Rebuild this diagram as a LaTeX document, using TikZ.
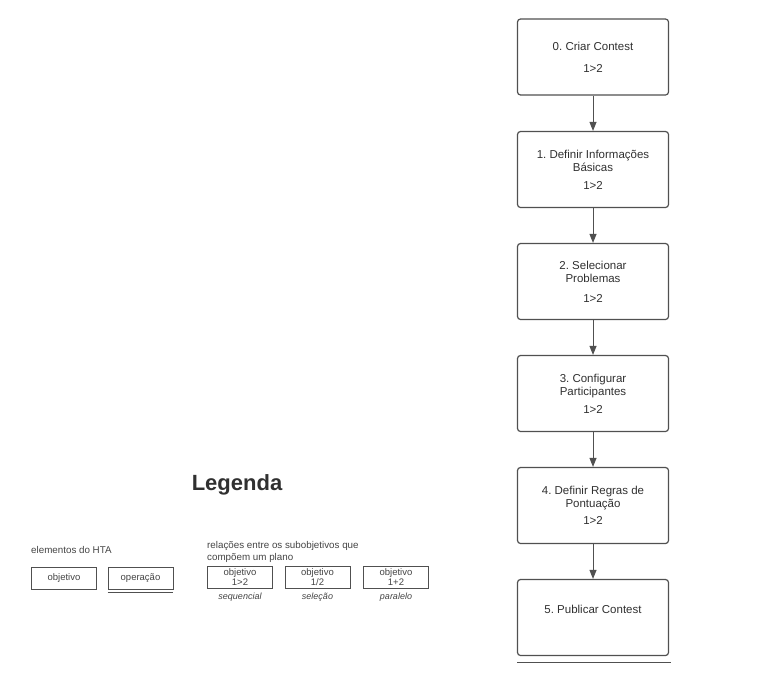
\documentclass[tikz,border=0pt]{standalone}
\usepackage{fontspec}
\setmainfont{Liberation Sans}
\usetikzlibrary{arrows.meta}
\frenchspacing

\definecolor{linegray}{HTML}{505050}
\definecolor{textgray}{HTML}{303030}
\definecolor{leggray}{HTML}{444444}

\tikzset{
    htabox/.style={draw=linegray, line width=1.2pt, rounded corners=3pt, minimum width=151pt, minimum height=76pt, inner sep=0pt, align=center, text=textgray, font=\fontsize{11.5}{13}\selectfont},
    htaarrow/.style={draw=linegray, line width=1pt, -{Triangle[width=7pt,length=9pt]}},
    legbox/.style={draw=linegray, line width=0.8pt, minimum width=65pt, minimum height=22pt, inner sep=0pt, align=center, text=leggray, font=\fontsize{9.5}{9.5}\selectfont},
    legtext/.style={inner sep=0pt, align=left, text=leggray, font=\fontsize{9.8}{11.5}\selectfont},
    leglabel/.style={inner sep=0pt, text=leggray, font=\itshape\fontsize{9}{10}\selectfont}
}

\begin{document}
\begin{tikzpicture}[x=1pt, y=-1pt]
    \useasboundingbox (0,0) rectangle (768,697);

    % draw boxes
    \node[htabox] (b0) at (593,57) {0. Criar Contest\\[9pt]1>2};
    \node[htabox] (b1) at (593,169.5) {1. Definir Informações\\Básicas\\[5pt]1>2};
    \node[htabox] (b2) at (593,281.5) {2. Selecionar\\Problemas\\[7pt]1>2};
    \node[htabox] (b3) at (593,393.5) {3. Configurar\\Participantes\\[5pt]1>2};
    \node[htabox] (b4) at (593,505.5) {4. Definir Regras de\\Pontuação\\[4.5pt]1>2};
    \node[htabox] (b5) at (593,617.5) {5. Publicar Contest\\[4pt]~};

    % draw arrows
    \draw[htaarrow] (b0) -- (b1);
    \draw[htaarrow] (b1) -- (b2);
    \draw[htaarrow] (b2) -- (b3);
    \draw[htaarrow] (b3) -- (b4);
    \draw[htaarrow] (b4) -- (b5);

    % line under the last box
    \coordinate (endl) at (517,662);
    \coordinate (endr) at (671,662);
    \draw[linegray, line width=1pt] (endl) -- (endr);

    % legend
    \node[text=textgray, font=\bfseries\fontsize{22}{24}\selectfont] (leg) at (237,485) {Legenda};

    \node[legtext, anchor=west] (elem) at (31,550) {elementos do HTA};
    \node[legbox] (obj) at (64,578) {objetivo};
    \node[legbox] (op) at (140.5,578) {operação};
    \draw[linegray, line width=1pt] ([yshift=-3pt]op.south west) -- ([yshift=-3pt]op.south east);

    \node[legtext, anchor=north west] (rel) at (207,541.5) {relações entre os subobjetivos que\\compõem um plano};
    \node[legbox] (seq) at (240,577) {objetivo\\1>2};
    \node[legbox] (sel) at (317.5,577) {objetivo\\1/2};
    \node[legbox] (par) at (396,577) {objetivo\\1+2};

    \node[leglabel] (seqlab) at (240,597) {sequencial};
    \node[leglabel] (sellab) at (317.5,597) {seleção};
    \node[leglabel] (parlab) at (396,597) {paralelo};

\end{tikzpicture}
\end{document}
